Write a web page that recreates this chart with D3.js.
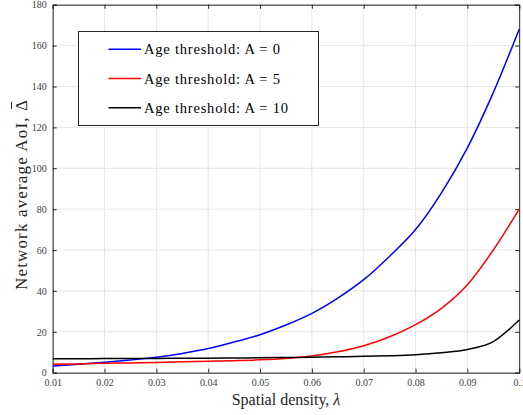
<!DOCTYPE html>
<html><head><meta charset="utf-8">
<script src="https://cdn.jsdelivr.net/npm/d3@7"></script>
<style>body{margin:0;background:#fff}svg{display:block}</style>
</head><body><svg id="c" width="523" height="415"></svg>
<script>
const lambdas = [0.01,0.015,0.02,0.025,0.03,0.035,0.04,0.045,0.05,0.055,0.06,0.065,0.07,0.075,0.08,0.085,0.09,0.095,0.1];
const blueVals = [3.2,4.1,5.1,6.2,7.5,9.4,11.8,15,18.6,23.3,29,36.5,45.5,57,70,88,110,137,168];
const redVals = [4.1,4.3,4.6,4.8,5.0,5.3,5.6,5.9,6.3,7.0,8.2,10.2,13.2,17.6,23.5,31.5,43,60,80];
const blackVals = [6.8,6.85,6.9,6.95,7.0,7.05,7.1,7.2,7.3,7.45,7.6,7.8,8.0,8.3,8.8,9.8,11.4,15.2,25.8];
const seriesNames = ["Age threshold: A = 0","Age threshold: A = 5","Age threshold: A = 10"];
const seriesColors = ["#0000ff","#ff0000","#000000"];
const xTicks = [0.01,0.02,0.03,0.04,0.05,0.06,0.07,0.08,0.09,0.1];
const yTicks = [0,20,40,60,80,100,120,140,160,180];

const svg = d3.select("#c");
const L = 52.7, R = 519.2, T = 4.7, B = 372.7;
const x = d3.scaleLinear().domain([0.01,0.1]).range([L,R]);
const y = d3.scaleLinear().domain([0,180]).range([B,T]);
const font = "'Liberation Serif','Times New Roman',serif";

// grid
const g = svg.append("g");
g.selectAll(".vg").data(xTicks).join("line").attr("x1",d=>x(d)).attr("x2",d=>x(d)).attr("y1",T).attr("y2",B).attr("stroke","#e6e6e6").attr("stroke-width",1);
g.selectAll(".hg").data(yTicks).join("line").attr("y1",d=>y(d)).attr("y2",d=>y(d)).attr("x1",L).attr("x2",R).attr("stroke","#e6e6e6").attr("stroke-width",1);

// axes
const xa = svg.append("g").attr("transform",`translate(0,${B})`).call(d3.axisBottom(x).tickValues(xTicks).tickSize(-4).tickPadding(6).tickFormat(d=>d===0.1?"0.1":d3.format(".2f")(d)));
const xt = svg.append("g").attr("transform",`translate(0,${T})`).call(d3.axisTop(x).tickValues(xTicks).tickSize(-4).tickFormat(""));
const ya = svg.append("g").attr("transform",`translate(${L},0)`).call(d3.axisLeft(y).tickValues(yTicks).tickSize(-4).tickPadding(6));
const yr = svg.append("g").attr("transform",`translate(${R},0)`).call(d3.axisRight(y).tickValues(yTicks).tickSize(-4).tickFormat(""));
[xa,xt,ya,yr].forEach(a=>{
  a.select(".domain").attr("stroke","#262626").attr("stroke-width",1);
  a.selectAll(".tick line").attr("stroke","#262626");
  a.selectAll("text").attr("font-family",font).attr("font-size",10).attr("fill","#404040");
});

// lines
const allVals = [blueVals,redVals,blackVals];
const line = d3.line().x((d,i)=>x(lambdas[i])).y(d=>y(d)).curve(d3.curveMonotoneX);
allVals.forEach((vals,k)=>{
  svg.append("path").datum(vals).attr("d",line).attr("fill","none").attr("stroke",seriesColors[k]).attr("stroke-width",1.5);
});

// legend
const legendLens = [136,136,144];
const lg = svg.append("g");
lg.append("rect").attr("x",78.5).attr("y",31.5).attr("width",240).attr("height",94).attr("fill","#fff").attr("stroke","#262626").attr("stroke-width",1);
seriesNames.forEach((n,k)=>{
  const yy = 49.3 + k*29.2;
  lg.append("line").attr("x1",108.5).attr("x2",141).attr("y1",yy).attr("y2",yy).attr("stroke",seriesColors[k]).attr("stroke-width",1.5);
  lg.append("text").attr("x",144).attr("y",yy+5).attr("font-family",font).attr("font-size",14.5).attr("textLength",legendLens[k]).attr("lengthAdjust","spacing").attr("fill","#000").text(n);
});

// labels
const xl = svg.append("text").attr("x",286).attr("y",405).attr("text-anchor","middle").attr("font-family",font).attr("font-size",16).attr("fill","#262626");
xl.append("tspan").text("Spatial density, ");
xl.append("tspan").attr("font-style","italic").text("λ");
const yg = svg.append("g").attr("transform","translate(27,195) rotate(-90)");
const ylab = yg.append("text").attr("x",0).attr("y",0).attr("text-anchor","middle").attr("font-family",font).attr("font-size",17).attr("textLength",190).attr("lengthAdjust","spacing").attr("fill","#262626").text("Network average AoI, \u0394");
const n = ylab.node();
const ext = n.getExtentOfChar(n.getNumberOfChars()-1);
yg.append("line").attr("x1",ext.x+2).attr("x2",ext.x+ext.width-2).attr("y1",ext.y-0.5).attr("y2",ext.y-0.5).attr("stroke","#262626").attr("stroke-width",1);
</script></body></html>
